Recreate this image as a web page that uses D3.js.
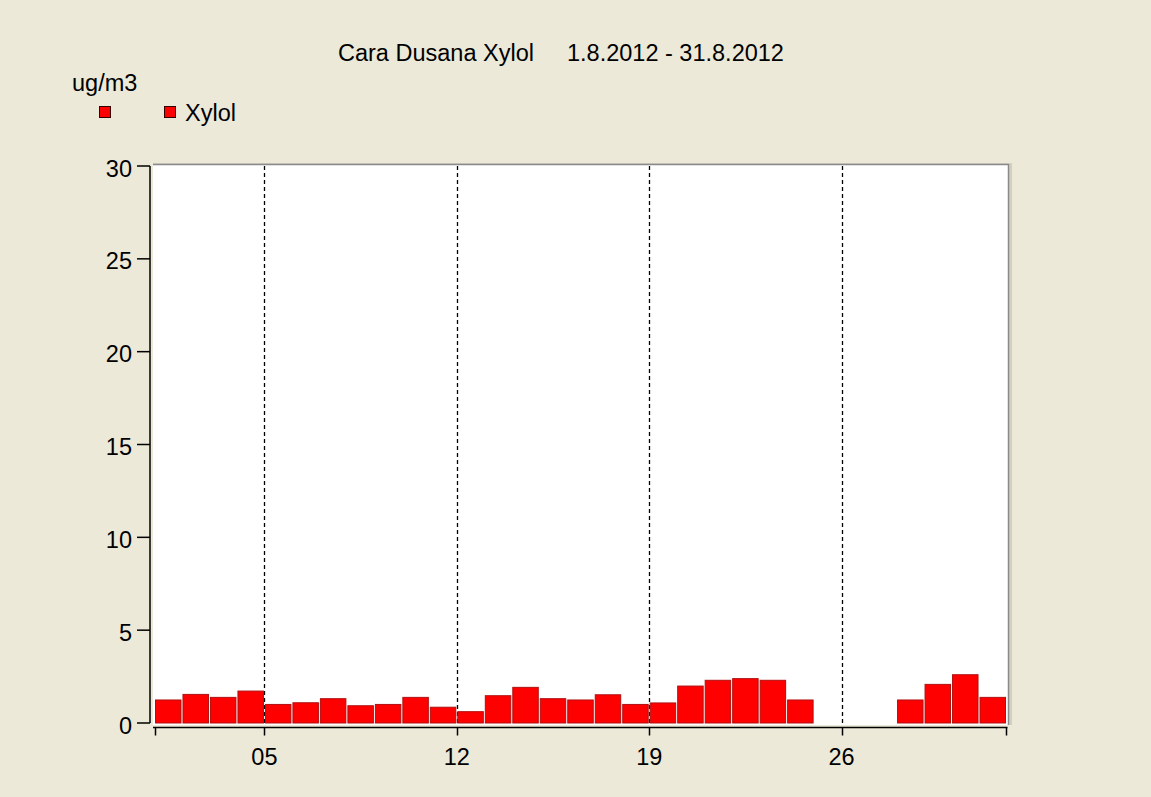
<!DOCTYPE html>
<html>
<head>
<meta charset="utf-8">
<script src="https://cdn.jsdelivr.net/npm/d3@7"></script>
<style>
  html, body { margin: 0; padding: 0; background: #ece9d8; }
  svg { display: block; }
  text { font-family: "Liberation Sans", Arial, sans-serif; fill: #000; }
</style>
</head>
<body>
<svg id="chart" width="1151" height="797"></svg>
<script>
// ---- data ----
const titleLeft = "Cara Dusana Xylol";
const titleRight = "1.8.2012 - 31.8.2012";
const unitLabel = "ug/m3";
const seriesName = "Xylol";
const days = d3.range(1, 32);  // 1..31 August 2012
const values = [1.24, 1.54, 1.38, 1.72, 1.00, 1.09, 1.31, 0.93, 1.00, 1.38,
                0.85, 0.61, 1.47, 1.92, 1.31, 1.24, 1.52, 1.00, 1.08, 1.99,
                2.30, 2.39, 2.30, 1.24, null, null, null, 1.24, 2.08, 2.60, 1.38];
const yTicks = [0, 5, 10, 15, 20, 25, 30];
const xTickDays = [5, 12, 19, 26];
const xTickLabels = ["05", "12", "19", "26"];

// ---- layout ----
const svg = d3.select("#chart");
const W = 1151, H = 797;
const FS = 23.5;
svg.append("rect").attr("width", W).attr("height", H).attr("fill", "#ece9d8");

const x0 = 154.5, x1 = 1006.5, yTop = 166, yBot = 723;
const x = d3.scaleTime()
  .domain([new Date(2012, 7, 1), new Date(2012, 8, 1)])
  .range([x0, x1]);
const y = d3.scaleLinear().domain([0, 30]).range([yBot, yTop]);
const dayDate = d => new Date(2012, 7, d);

// plot frame
const frame = { l: 153, t: 164, r: 1010, b: 725 };
svg.append("rect")
  .attr("x", frame.l).attr("y", frame.t)
  .attr("width", frame.r - frame.l).attr("height", frame.b - frame.t)
  .attr("fill", "#ffffff");
svg.append("path")
  .attr("d", `M${frame.l},${frame.t - 0.5}H${frame.r - 0.5}V${frame.b}`)
  .attr("fill", "none").attr("stroke", "#d4d0c8").attr("stroke-width", 1);
svg.append("path")
  .attr("d", `M${frame.l},${frame.t + 0.5}H${frame.r - 1.5}V${frame.b}`)
  .attr("fill", "none").attr("stroke", "#8a8a8a").attr("stroke-width", 1.5);
svg.append("path")
  .attr("d", `M${frame.r + 1},${frame.t - 1}V${frame.b}`)
  .attr("fill", "none").attr("stroke", "#b8b4a8").attr("stroke-width", 1);

// dashed weekly lines
svg.append("g").selectAll("line").data(xTickDays).join("line")
  .attr("x1", d => Math.round(x(dayDate(d))) + 0.5)
  .attr("x2", d => Math.round(x(dayDate(d))) + 0.5)
  .attr("y1", frame.t + 2).attr("y2", frame.b)
  .attr("stroke", "#000").attr("stroke-width", 1.3)
  .attr("stroke-dasharray", "4,3");

// bars
const data = days.map((d, i) => ({ day: d, v: values[i] })).filter(d => d.v !== null);
svg.append("g").selectAll("rect").data(data).join("rect")
  .attr("x", d => x(dayDate(d.day)) + 1)
  .attr("width", d => x(dayDate(d.day + 1)) - x(dayDate(d.day)) - 2)
  .attr("y", d => y(d.v))
  .attr("height", d => y(0) - y(d.v))
  .attr("fill", "#ff0000")
  .attr("stroke", "#b01010")
  .attr("stroke-width", 1);

// y axis
const yAxisX = 150;
const gy = svg.append("g");
gy.append("line").attr("x1", yAxisX).attr("x2", yAxisX)
  .attr("y1", y(30)).attr("y2", y(0))
  .attr("stroke", "#000").attr("stroke-width", 1.5);
gy.selectAll("line.t").data(yTicks).join("line").attr("class", "t")
  .attr("x1", 137).attr("x2", yAxisX)
  .attr("y1", d => y(d)).attr("y2", d => y(d))
  .attr("stroke", "#000").attr("stroke-width", 1.5);
gy.selectAll("text").data(yTicks).join("text")
  .attr("x", 132).attr("y", d => y(d) + 10.5)
  .attr("text-anchor", "end").attr("font-size", FS)
  .text(d => d);

// x axis
const xAxisY = 727.5;
const gx = svg.append("g");
gx.append("line").attr("x1", 153).attr("x2", x1 + 1)
  .attr("y1", xAxisY).attr("y2", xAxisY)
  .attr("stroke", "#000").attr("stroke-width", 1.5);
const allTicks = [1].concat(xTickDays);
gx.selectAll("line.t").data(allTicks).join("line").attr("class", "t")
  .attr("x1", d => Math.round(x(dayDate(d))) + 0.5)
  .attr("x2", d => Math.round(x(dayDate(d))) + 0.5)
  .attr("y1", xAxisY).attr("y2", xAxisY + 8)
  .attr("stroke", "#000").attr("stroke-width", 1.5);
gx.append("line")
  .attr("x1", x(new Date(2012, 8, 1))).attr("x2", x(new Date(2012, 8, 1)))
  .attr("y1", xAxisY).attr("y2", xAxisY + 8)
  .attr("stroke", "#000").attr("stroke-width", 1.5);
gx.selectAll("text").data(xTickDays).join("text")
  .attr("x", d => x(dayDate(d))).attr("y", 765)
  .attr("text-anchor", "middle").attr("font-size", FS)
  .text((d, i) => xTickLabels[i]);

// title
svg.append("text").attr("x", 338).attr("y", 61).attr("font-size", FS).text(titleLeft);
svg.append("text").attr("x", 567).attr("y", 61).attr("font-size", FS).text(titleRight);

// unit + legend
svg.append("text").attr("x", 72).attr("y", 91).attr("font-size", FS).text(unitLabel);
svg.append("rect").attr("x", 99.5).attr("y", 106.5).attr("width", 11).attr("height", 11)
  .attr("fill", "#ff0000").attr("stroke", "#300").attr("stroke-width", 1);
svg.append("rect").attr("x", 164.5).attr("y", 106.5).attr("width", 11).attr("height", 11)
  .attr("fill", "#ff0000").attr("stroke", "#300").attr("stroke-width", 1);
svg.append("text").attr("x", 185).attr("y", 121).attr("font-size", FS).text(seriesName);
</script>
</body>
</html>
